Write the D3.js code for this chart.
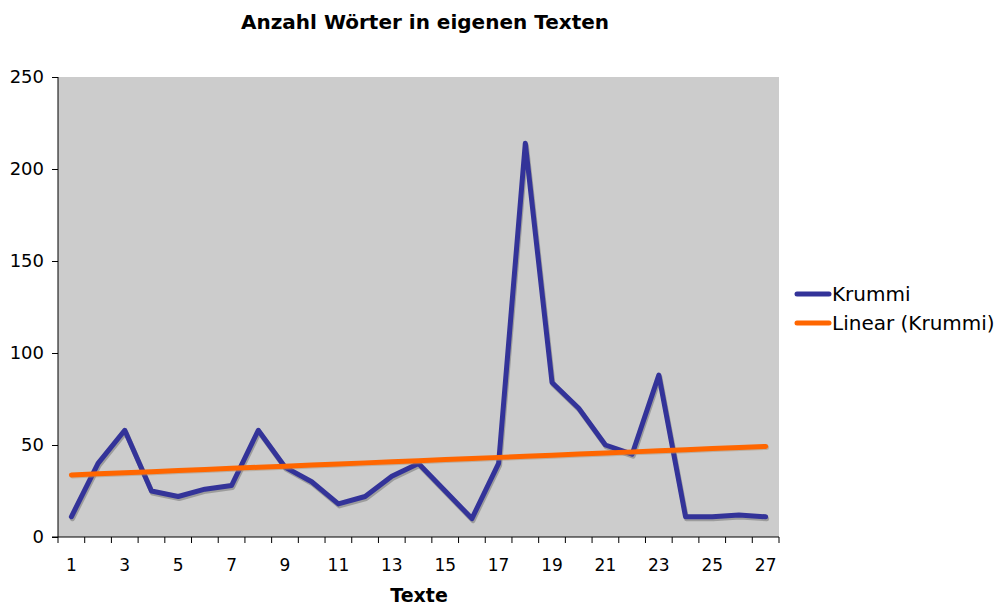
<!DOCTYPE html>
<html>
<head>
<meta charset="utf-8">
<script src="https://cdn.jsdelivr.net/npm/d3@7"></script>
<style>
  body { margin: 0; background: #fff; }
  text { font-family: "DejaVu Sans", Verdana, sans-serif; }
</style>
</head>
<body>
<script>
// data
var texte = d3.range(1, 28);
var woerter = [11, 40, 58, 25, 22, 26, 28, 58, 38, 30, 18, 22, 33, 40, 25, 10, 40, 214, 84, 70, 50, 45, 88, 11, 11, 12, 11];
var yTicks = [0, 50, 100, 150, 200, 250];
var xLabels = texte.filter(function (d) { return d % 2 === 1; });

var w = 998, h = 605;
var pLeft = 58, pRight = 779, pTop = 77, pBottom = 537;

var svg = d3.select("body").append("svg").attr("width", w).attr("height", h);

var x = d3.scaleBand().domain(texte).range([pLeft, pRight]);
var y = d3.scaleLinear().domain([0, 250]).range([pBottom, pTop]);

// plot area
svg.append("rect").attr("x", pLeft).attr("y", pTop).attr("width", pRight - pLeft).attr("height", pBottom - pTop).attr("fill", "#cccccc");

// linear trend (least squares, like Excel's trendline)
var mx = d3.mean(texte), my = d3.mean(woerter);
var slope = d3.sum(texte, function (d, i) { return (d - mx) * (woerter[i] - my); }) / d3.sum(texte, function (d) { return (d - mx) * (d - mx); });
var icpt = my - slope * mx;
var trend = texte.map(function (d) { return icpt + slope * d; });

var line = d3.line().x(function (d, i) { return x(texte[i]) + x.bandwidth() / 2; }).y(function (d) { return y(d); });

// shadows
svg.append("path").attr("d", line(woerter)).attr("transform", "translate(1,2)").attr("fill", "none").attr("stroke", "#888").attr("stroke-width", 5).attr("stroke-linejoin", "round").attr("stroke-linecap", "round").attr("opacity", 0.7);
svg.append("path").attr("d", line(woerter)).attr("fill", "none").attr("stroke", "#333399").attr("stroke-width", 5).attr("stroke-linejoin", "round").attr("stroke-linecap", "round");

svg.append("path").attr("d", line(trend)).attr("transform", "translate(1,1)").attr("fill", "none").attr("stroke", "#b09070").attr("stroke-width", 5).attr("stroke-linecap", "round").attr("opacity", 0.5);
svg.append("path").attr("d", line(trend)).attr("fill", "none").attr("stroke", "#ff6600").attr("stroke-width", 5).attr("stroke-linecap", "round");

// y axis
var yAxis = svg.append("g").attr("transform", "translate(" + pLeft + ",0)")
  .call(d3.axisLeft(y).tickValues(yTicks).tickSize(6).tickPadding(8));
yAxis.select(".domain").attr("stroke", "#000").attr("d", "M0," + pTop + "V" + pBottom);
yAxis.selectAll("text").attr("font-size", 18).attr("fill", "#000").style("font-family", "DejaVu Sans");

// x axis: ticks between categories
var xg = svg.append("g").attr("transform", "translate(0," + pBottom + ")");
xg.append("line").attr("x1", pLeft - 6).attr("x2", pRight).attr("stroke", "#000");
xg.selectAll("line.tk").data(texte.concat([28])).enter().append("line").attr("class", "tk")
  .attr("x1", function (d) { return d <= 27 ? x(d) : pRight; })
  .attr("x2", function (d) { return d <= 27 ? x(d) : pRight; })
  .attr("y1", 0).attr("y2", 6).attr("stroke", "#000");
xg.selectAll("text").data(xLabels).enter().append("text")
  .attr("x", function (d) { return x(d) + x.bandwidth() / 2; })
  .attr("y", 34).attr("text-anchor", "middle").attr("font-size", 17).text(function (d) { return d; });

// titles
svg.append("text").attr("x", 425).attr("y", 29).attr("text-anchor", "middle").attr("font-size", 20).attr("font-weight", "bold").text("Anzahl Wörter in eigenen Texten");
svg.append("text").attr("x", 419).attr("y", 602).attr("text-anchor", "middle").attr("font-size", 19).attr("font-weight", "bold").text("Texte");

// legend
var legend = [{ name: "Krummi", color: "#333399" }, { name: "Linear (Krummi)", color: "#ff6600" }];
var lg = svg.selectAll("g.lg").data(legend).enter().append("g").attr("class", "lg")
  .attr("transform", function (d, i) { return "translate(797," + (294 + i * 29) + ")"; });
lg.append("line").attr("x1", 0).attr("x2", 32).attr("stroke", function (d) { return d.color; }).attr("stroke-width", 5).attr("stroke-linecap", "round");
lg.append("text").attr("x", 35).attr("y", 7).attr("font-size", 20).text(function (d) { return d.name; });
</script>
</body>
</html>
